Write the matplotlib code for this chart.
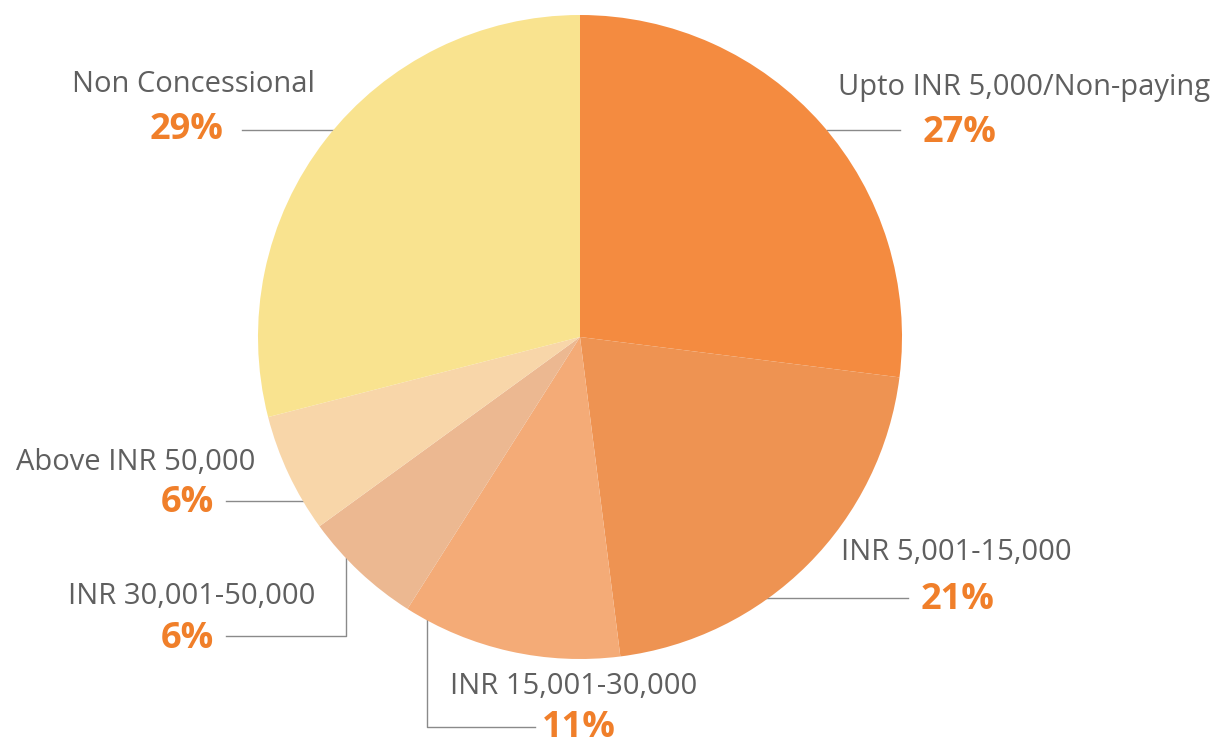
import numpy as np
import matplotlib
matplotlib.use("Agg")
import matplotlib.pyplot as plt

labels = ["Upto INR 5,000/Non-paying", "INR 5,001-15,000", "INR 15,001-30,000",
          "INR 30,001-50,000", "Above INR 50,000", "Non Concessional"]
shares = [27, 21, 11, 6, 6, 29]
colors = ["#F48B40", "#EE9352", "#F4AB77", "#ECB891", "#F8D6A9", "#F9E38F"]

W, H = 1225, 747
cx, cy, r = 580, H - 337, 322

fig = plt.figure(figsize=(W / 100, H / 100), dpi=100)
ax = fig.add_axes([0, 0, 1, 1])

ax.pie(shares, colors=colors, startangle=90, counterclock=False,
       center=(cx, cy), radius=r, frame=True,
       wedgeprops=dict(linewidth=0))
ax.set_xlim(0, W)
ax.set_ylim(0, H)
ax.axis("off")

line_kw = dict(color="#8a8a8a", lw=1.0, zorder=0)
lab_kw = dict(fontsize=21, color="#5f5f5f", family="Open Sans")
pct_kw = dict(fontsize=26, color="#F07F2A", family="Open Sans", fontweight="bold")


def edge_x(y, side):
    return cx + side * np.sqrt(r ** 2 - (y - cy) ** 2)


def edge_y(x):
    return cy - np.sqrt(r ** 2 - (x - cx) ** 2)


# (label right x, label y, pct centre x, pct y) in pixels from top
spots = [
    (1210, 87, 960, 133),
    (1072, 552, 958, 600),
    (697, 686, 579, 728),
    (315, 597, 187, 639),
    (255, 462, 187, 503),
    (315, 84, 187, 130),
]

for lab, s, (lx, ly, px, py) in zip(labels, shares, spots):
    ax.text(lx, H - ly, lab, ha="right", va="center", **lab_kw)
    ax.text(px, H - py, f"{s}%", ha="center", va="center", **pct_kw)

# leader lines
y0 = H - 130
ax.plot([edge_x(y0, -1), 242], [y0, y0], **line_kw)
ax.plot([edge_x(y0, 1), 900], [y0, y0], **line_kw)
y1 = H - 598
ax.plot([edge_x(y1, 1) - 10, 908], [y1, y1], **line_kw)
y2 = H - 501
ax.plot([edge_x(y2, -1), 226], [y2, y2], **line_kw)
x3 = 346
ax.plot([x3, x3, 226], [edge_y(x3), H - 636, H - 636], **line_kw)
x4 = 427
ax.plot([x4, x4, 535], [edge_y(x4), H - 727, H - 727], **line_kw)

fig.savefig("out.png", dpi=100, facecolor="white")
